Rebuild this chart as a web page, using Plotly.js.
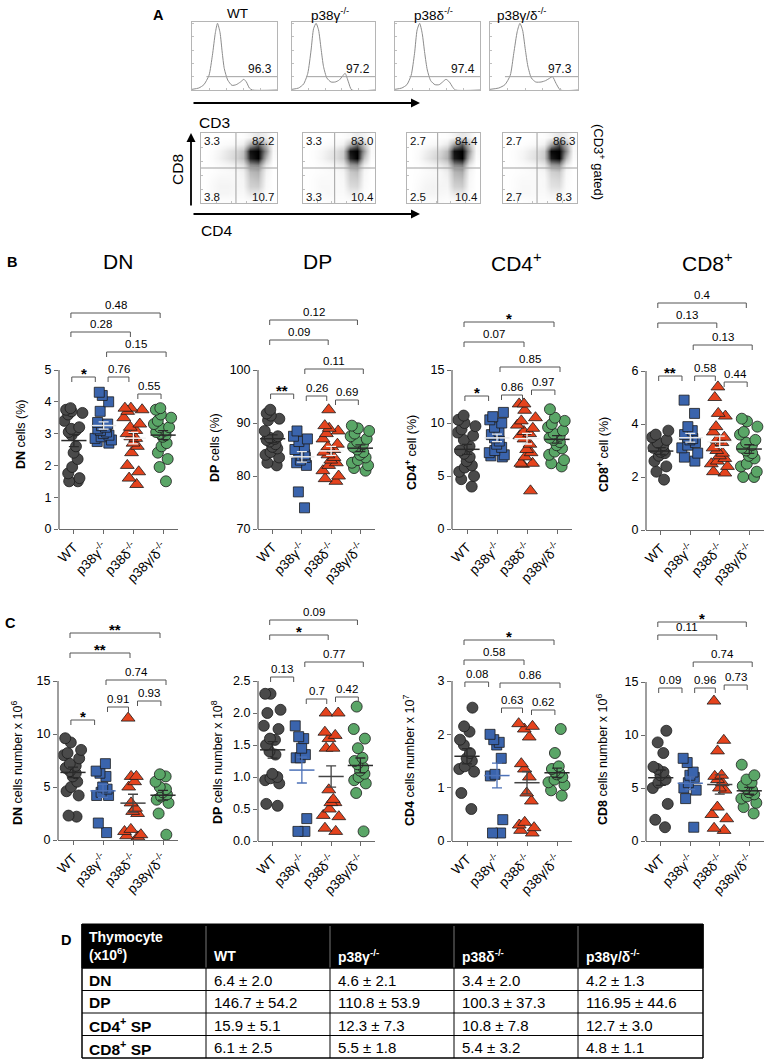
<!DOCTYPE html>
<html><head><meta charset="utf-8">
<script src="https://cdn.plot.ly/plotly-3.0.1.min.js"></script>
<style>html,body{margin:0;padding:0;background:#fff;}#chart{width:769px;height:1063px;}</style>
</head><body><div id="chart"></div>
<script>
// ---------------- DATA ----------------
const genotypes = ['WT', 'p38γ<sup>-/-</sup>', 'p38δ<sup>-/-</sup>', 'p38γ/δ<sup>-/-</sup>'];

// Panel A: CD3 histograms (x = % of CD3 axis, y = % of max count)
const histX_WT = [0, 8, 14, 20, 24, 27.5, 30, 33, 35.5, 38, 42, 47, 52, 57, 61, 64, 67.5, 71, 100];
const histY_WT = [1, 3, 8, 22, 52, 86, 100, 86, 57, 32, 15, 7, 8, 12, 16, 12, 3, 0, 0];
const histX_G = [0, 8, 14, 19, 23, 26, 29, 32, 35, 38, 42, 47, 52, 57, 61, 64, 68, 72, 100];
const histY_G = [1, 3, 9, 25, 60, 92, 100, 90, 62, 35, 18, 12, 12, 15, 21, 25, 12, 0, 0];
const histX_D = [0, 8, 14, 19, 23, 26, 29, 32, 35, 38, 42, 47, 52, 56, 60, 64, 68, 71, 100];
const histY_D = [1, 3, 8, 22, 55, 90, 100, 85, 55, 30, 14, 8, 8, 12, 16, 12, 4, 0, 0];
const histX_GD = [0, 10, 17, 23, 27, 31, 34, 37, 40, 43, 47, 52, 58, 63, 67, 71, 75, 80, 100];
const histY_GD = [1, 3, 8, 22, 55, 88, 100, 90, 62, 36, 18, 12, 12, 14, 17, 20, 10, 0, 0];
const cd3Pct = ['96.3', '97.2', '97.4', '97.3'];

// Panel A: CD4/CD8 quadrant percentages
const quadUL = ['3.3', '3.3', '2.7', '2.7'];
const quadUR = ['82.2', '83.0', '84.4', '86.3'];
const quadLL = ['3.8', '3.3', '2.5', '2.7'];
const quadLR = ['10.7', '10.4', '10.4', '8.3'];

// Panel A: dot-plot density (rows bottom -> top, CD4 low -> high)
const dens_WT = [
 [0,0.01,0.02,0.02,0.02,0.02,0.04,0.04,0.01,0],
 [0,0.04,0.07,0.07,0.05,0.05,0.16,0.15,0.03,0],
 [0,0.04,0.08,0.08,0.06,0.07,0.28,0.30,0.05,0],
 [0,0.03,0.06,0.06,0.05,0.08,0.32,0.36,0.06,0],
 [0,0.01,0.03,0.04,0.05,0.10,0.38,0.42,0.08,0],
 [0,0.01,0.04,0.07,0.10,0.18,0.55,0.60,0.15,0],
 [0,0.03,0.10,0.18,0.25,0.38,0.90,1.00,0.40,0.03],
 [0,0.02,0.08,0.16,0.22,0.35,0.95,1.00,0.55,0.05],
 [0,0,0.02,0.04,0.06,0.12,0.45,0.70,0.35,0.04],
 [0,0,0,0,0.01,0.02,0.08,0.15,0.10,0.01]];
const dens_G = [
 [0,0.01,0.01,0.02,0.02,0.02,0.03,0.03,0.01,0],
 [0,0.02,0.04,0.05,0.04,0.04,0.12,0.12,0.02,0],
 [0,0.02,0.05,0.05,0.04,0.05,0.22,0.24,0.04,0],
 [0,0.02,0.04,0.04,0.04,0.06,0.28,0.30,0.05,0],
 [0,0.01,0.02,0.03,0.04,0.08,0.32,0.36,0.06,0],
 [0,0.01,0.03,0.05,0.08,0.15,0.50,0.55,0.12,0],
 [0,0.02,0.07,0.14,0.20,0.32,0.88,1.00,0.35,0.02],
 [0,0.02,0.06,0.12,0.18,0.30,0.95,1.00,0.50,0.04],
 [0,0,0.01,0.03,0.05,0.10,0.40,0.65,0.30,0.03],
 [0,0,0,0,0.01,0.02,0.06,0.12,0.08,0.01]];
const dens_D = [
 [0,0.01,0.02,0.03,0.03,0.02,0.04,0.04,0.01,0],
 [0,0.04,0.08,0.08,0.06,0.05,0.15,0.15,0.03,0],
 [0,0.03,0.07,0.09,0.07,0.07,0.28,0.30,0.05,0],
 [0,0.02,0.05,0.07,0.06,0.09,0.34,0.36,0.06,0],
 [0,0.01,0.03,0.05,0.06,0.12,0.40,0.44,0.08,0],
 [0,0.01,0.05,0.09,0.13,0.22,0.58,0.62,0.15,0],
 [0,0.04,0.13,0.22,0.30,0.42,0.92,1.00,0.40,0.03],
 [0,0.03,0.10,0.18,0.25,0.38,0.95,1.00,0.52,0.05],
 [0,0,0.02,0.05,0.07,0.14,0.48,0.72,0.35,0.04],
 [0,0,0,0,0.01,0.02,0.08,0.15,0.10,0.01]];
const dens_GD = [
 [0,0.01,0.01,0.02,0.02,0.02,0.03,0.03,0.01,0],
 [0,0.03,0.05,0.05,0.04,0.04,0.10,0.10,0.02,0],
 [0,0.02,0.05,0.05,0.04,0.05,0.18,0.20,0.03,0],
 [0,0.02,0.04,0.04,0.04,0.05,0.22,0.25,0.04,0],
 [0,0.01,0.02,0.03,0.04,0.07,0.28,0.32,0.05,0],
 [0,0.01,0.03,0.05,0.08,0.15,0.50,0.55,0.12,0],
 [0,0.02,0.07,0.14,0.20,0.32,0.92,1.00,0.40,0.03],
 [0,0.02,0.06,0.12,0.18,0.30,0.98,1.00,0.58,0.05],
 [0,0,0.01,0.03,0.05,0.10,0.45,0.75,0.40,0.04],
 [0,0,0,0,0.01,0.02,0.08,0.15,0.10,0.01]];

// Panel B: % of thymocytes
const bDN_WT = [3.8,3.75,3.7,3.65,3.6,3.4,3.2,3.15,3.1,3.05,2.95,2.6,2.4,2.2,1.95,1.75,1.6,1.5,1.5];
const bDN_G  = [4.3,4.2,4.0,3.7,3.35,3.3,3.25,3.2,3.15,3.1,3.05,3.0,2.95,2.9,2.85,2.8,2.75,2.7];
const bDN_D  = [3.8,3.8,3.75,3.7,3.5,3.3,3.2,3.1,3.0,2.9,2.85,2.7,2.6,2.4,2.0,1.8,1.6,1.4];
const bDN_GD = [3.8,3.75,3.6,3.5,3.4,3.3,3.2,3.2,3.1,3.05,3.0,2.95,2.9,2.7,2.6,2.4,2.2,1.95,1.5];

const bDP_WT = [92.5,91.8,91.4,90.8,90.5,88.5,87.0,87.5,87.2,86.8,86.5,86.0,85.5,85.2,84.5,84.0,83.5,82.5,82.0];
const bDP_G  = [88.5,87.5,87.0,86.5,85.5,85.0,84.5,84.0,83.8,83.5,83.0,82.5,82.0,77.0,74.0];
const bDP_D  = [92.5,89.5,89.0,88.5,88.0,87.0,86.0,85.5,85.0,84.5,84.0,83.5,83.0,82.5,82.0,81.0,80.0,79.5,79.0];
const bDP_GD = [89.5,89.0,88.5,88.0,87.5,87.0,86.5,86.0,85.5,85.0,84.5,84.0,83.5,83.0,82.5,82.0,81.5,81.0];

const bCD4_WT = [10.7,10.3,10.0,9.7,9.4,9.1,8.8,8.4,7.8,7.4,7.1,6.8,6.4,6.0,5.8,5.4,5.0,4.7,4.0];
const bCD4_G  = [11.0,10.6,10.3,10.0,9.6,9.2,8.9,8.6,8.3,8.0,7.7,7.4,7.2,7.0,6.9,6.8];
const bCD4_D  = [11.8,11.8,11.2,10.5,10.2,9.8,9.5,9.2,9.0,8.8,8.5,8.0,7.5,7.2,6.8,6.2,6.2,6.1,3.6];
const bCD4_GD = [11.3,10.5,10.2,9.9,9.6,9.3,9.0,8.8,8.6,8.4,8.2,7.9,7.6,7.3,7.0,6.5,6.2,5.9];

const bCD8_WT = [3.75,3.6,3.5,3.4,3.3,3.2,3.1,3.05,3.0,2.95,2.9,2.8,2.6,2.4,2.2,1.9];
const bCD8_G  = [4.9,4.4,3.9,3.75,3.6,3.5,3.45,3.4,3.3,3.2,3.1,2.9,2.75,2.6];
const bCD8_D  = [5.4,5.0,4.4,4.3,3.9,3.7,3.5,3.4,3.3,3.1,3.0,2.9,2.8,2.7,2.6,2.5,2.4,2.2,2.15];
const bCD8_GD = [4.2,4.1,3.9,3.7,3.6,3.4,3.3,3.2,3.1,3.0,2.9,2.8,2.7,2.5,2.4,2.2,2.0,2.0];

// Panel C: absolute numbers
const cDN_WT = [9.6,9.2,8.5,8.2,8.0,7.7,7.2,7.0,6.8,6.5,6.3,6.0,5.5,5.0,4.6,4.2,2.3,2.2];
const cDN_G  = [7.2,6.5,6.3,6.0,5.0,4.8,4.5,4.2,4.2,1.6,0.7];
const cDN_D  = [11.5,6.0,6.0,5.5,5.0,3.5,3.0,2.7,2.5,1.0,0.8,0.5,0.4,0.3];
const cDN_GD = [6.2,6.0,5.5,5.0,4.8,4.5,4.3,4.1,3.8,3.5,2.5,0.5];

const cDP_WT = [2.3,2.3,2.05,2.0,1.8,1.75,1.6,1.58,1.5,1.4,1.35,1.05,1.0,0.98,0.95,0.9,0.58,0.55];
const cDP_G  = [1.8,1.63,1.6,1.45,1.35,1.3,1.3,0.35,0.15,0.15];
const cDP_D  = [2.0,2.0,1.7,1.65,1.6,1.45,1.45,0.8,0.65,0.6,0.6,0.5,0.4,0.38,0.2,0.15];
const cDP_GD = [2.1,1.75,1.6,1.45,1.3,1.25,1.2,1.15,1.1,1.05,1.0,0.95,0.9,0.75,0.15];

const cCD4_WT = [2.5,2.15,2.05,1.9,1.8,1.65,1.55,1.5,1.4,1.35,1.3,0.9,0.6];
const cCD4_G  = [2.0,1.9,1.85,1.8,1.55,1.25,1.22,0.4,0.15,0.15];
const cCD4_D  = [2.2,2.15,2.1,1.95,1.45,1.35,1.2,0.9,0.75,0.35,0.3,0.25,0.2,0.15];
const cCD4_GD = [2.1,1.65,1.4,1.35,1.3,1.28,1.25,1.2,1.15,1.1,1.05,0.95,0.85];

const cCD8_WT = [10.4,9.3,8.3,7.0,6.8,6.5,6.2,5.8,5.5,5.0,3.5,2.0,1.3];
const cCD8_G  = [7.8,7.4,6.5,6.2,6.0,5.5,5.0,4.8,4.0,1.3];
const cCD8_D  = [13.2,9.5,8.5,6.2,6.1,5.8,5.5,5.0,4.8,3.2,2.5,2.1,1.2,1.0];
const cCD8_GD = [7.2,6.2,5.8,5.5,5.2,5.0,4.8,4.6,4.4,4.2,4.0,3.6,3.2,2.6];

// p-value labels: [groupA, groupB, label]
const pv_bDN  = [[0,1,'*'],[1,2,'0.76'],[2,3,'0.55'],[1,3,'0.15'],[0,2,'0.28'],[0,3,'0.48']];
const pv_bDP  = [[0,1,'**'],[1,2,'0.26'],[2,3,'0.69'],[1,3,'0.11'],[0,2,'0.09'],[0,3,'0.12']];
const pv_bCD4 = [[0,1,'*'],[1,2,'0.86'],[2,3,'0.97'],[1,3,'0.85'],[0,2,'0.07'],[0,3,'*']];
const pv_bCD8 = [[0,1,'**'],[1,2,'0.58'],[2,3,'0.44'],[1,3,'0.13'],[0,2,'0.13'],[0,3,'0.4']];
const pv_cDN  = [[0,1,'*'],[1,2,'0.91'],[2,3,'0.93'],[1,3,'0.74'],[0,2,'**'],[0,3,'**']];
const pv_cDP  = [[0,1,'0.13'],[1,2,'0.7'],[2,3,'0.42'],[1,3,'0.77'],[0,2,'*'],[0,3,'0.09']];
const pv_cCD4 = [[0,1,'0.08'],[1,2,'0.63'],[2,3,'0.62'],[1,3,'0.86'],[0,2,'0.58'],[0,3,'*']];
const pv_cCD8 = [[0,1,'0.09'],[1,2,'0.96'],[2,3,'0.73'],[1,3,'0.74'],[0,2,'0.11'],[0,3,'*']];

// Panel D table
const tableHeader = ['<b>Thymocyte</b><br><b>(x10<sup>6</sup>)</b>', '<b>WT</b>', '<b>p38γ<sup>-/-</sup></b>', '<b>p38δ<sup>-/-</sup></b>', '<b>p38γ/δ<sup>-/-</sup></b>'];
const tableRows = ['<b>DN</b>', '<b>DP</b>', '<b>CD4<sup>+</sup> SP</b>', '<b>CD8<sup>+</sup> SP</b>'];
const tab_WT = ['6.4 ± 2.0', '146.7 ± 54.2', '15.9 ± 5.1', '6.1 ± 2.5'];
const tab_G  = ['4.6 ± 2.1', '110.8 ± 53.9', '12.3 ± 7.3', '5.5 ± 1.8'];
const tab_D  = ['3.4 ± 2.0', '100.3 ± 37.3', '10.8 ± 7.8', '5.4 ± 3.2'];
const tab_GD = ['4.2 ± 1.3', '116.95 ± 44.6', '12.7 ± 3.0', '4.8 ± 1.1'];

// ---------------- LAYOUT / STYLE ----------------
const W = 769, H = 1063;
const FONT = 'Liberation Sans, Arial, sans-serif';
const px = v => v / W, py = v => 1 - v / H;
const colors = ['#4a4a4a', '#3a64ad', '#e5431d', '#5aa667'];
const symbols = ['circle', 'square', 'triangle-up', 'circle'];
const msize = [11, 10, 12, 11];

const traces = [], shapes = [], annos = [];
const layout = {
  width: W, height: H, margin: {l: 0, r: 0, t: 0, b: 0},
  paper_bgcolor: '#fff', plot_bgcolor: 'rgba(0,0,0,0)',
  showlegend: false, boxmode: 'overlay', font: {family: FONT, color: '#000'},
  hovermode: false
};

function txt(x, y, text, size, opts) {
  annos.push(Object.assign({xref: 'paper', yref: 'paper', x: px(x), y: py(y), text: text,
    xanchor: 'center', yanchor: 'middle', showarrow: false,
    font: {size: size, family: FONT, color: '#000'}}, opts || {}));
}

// ----- Panel A -----
const histSets = [[histX_WT, histY_WT], [histX_G, histY_G], [histX_D, histY_D], [histX_GD, histY_GD]];
const densSets = [dens_WT, dens_G, dens_D, dens_GD];
const histBox = [[192, 277], [292, 375], [395, 480], [490, 578]];
const dotBox = [[201, 277], [303, 375], [407, 480], [503, 577]];
const titleX = [237, 330, 433, 521];
const quadV = [46, 44, 42, 46];
const gridC = [5, 15, 25, 35, 45, 55, 65, 75, 85, 95];
const smallAxis = (dom, anchor, rng) => ({domain: dom, anchor: anchor, range: rng, showline: true, mirror: true,
  linecolor: '#b5b5b5', linewidth: 1, ticks: 'inside', ticklen: 2, tickcolor: '#c0c0c0', dtick: 20,
  showticklabels: false, showgrid: false, zeroline: false, fixedrange: true});

for (let i = 0; i < 4; i++) {
  const hn = i + 1, dn = i + 5;
  layout['xaxis' + hn] = smallAxis([px(histBox[i][0]), px(histBox[i][1])], 'y' + hn, [0, 100]);
  layout['yaxis' + hn] = smallAxis([py(90), py(22)], 'x' + hn, [0, 102]);
  layout['xaxis' + dn] = smallAxis([px(dotBox[i][0]), px(dotBox[i][1])], 'y' + dn, [0, 100]);
  layout['yaxis' + dn] = smallAxis([py(203), py(133)], 'x' + dn, [0, 100]);
  traces.push({type: 'scatter', mode: 'lines', x: histSets[i][0], y: histSets[i][1],
    line: {color: '#8c8c8c', width: 1, shape: 'spline', smoothing: 0.6}, xaxis: 'x' + hn, yaxis: 'y' + hn, hoverinfo: 'skip'});
  traces.push({type: 'heatmap', x: gridC, y: gridC, z: densSets[i], zmin: 0, zmax: 1, zsmooth: 'best', showscale: false,
    colorscale: [[0, '#ffffff'], [0.08, '#f4f4f4'], [0.3, '#cdcdcd'], [0.6, '#858585'], [0.88, '#262626'], [1, '#000000']],
    xaxis: 'x' + dn, yaxis: 'y' + dn, hoverinfo: 'skip'});
  shapes.push({type: 'line', xref: 'x' + hn, yref: 'y' + hn, x0: 17, x1: 100, y0: 20, y1: 20, line: {color: '#a0a0a0', width: 1}});
  shapes.push({type: 'line', xref: 'x' + dn, yref: 'y' + dn, x0: quadV[i], x1: quadV[i], y0: 0, y1: 100, line: {color: '#a0a0a0', width: 1}});
  shapes.push({type: 'line', xref: 'x' + dn, yref: 'y' + dn, x0: 0, x1: 100, y0: 50, y1: 50, line: {color: '#a0a0a0', width: 1}});
  const f = {size: 11.5, family: FONT, color: '#111'};
  annos.push({xref: 'x' + hn, yref: 'y' + hn, x: 80, y: 32, text: cd3Pct[i], showarrow: false, font: {size: 12, family: FONT, color: '#111'}});
  annos.push({xref: 'x' + dn, yref: 'y' + dn, x: 15, y: 88, text: quadUL[i], showarrow: false, font: f});
  annos.push({xref: 'x' + dn, yref: 'y' + dn, x: 82, y: 88, text: quadUR[i], showarrow: false, font: f});
  annos.push({xref: 'x' + dn, yref: 'y' + dn, x: 15, y: 9, text: quadLL[i], showarrow: false, font: f});
  annos.push({xref: 'x' + dn, yref: 'y' + dn, x: 82, y: 9, text: quadLR[i], showarrow: false, font: f});
  txt(titleX[i], 14, genotypes[i], 13.5);
}
// arrows
const arrow = (hx, hy, ax, ay) => annos.push({xref: 'paper', yref: 'paper', x: px(hx), y: py(hy), ax: ax, ay: ay,
  axref: 'pixel', ayref: 'pixel', text: '', showarrow: true, arrowhead: 2, arrowsize: 1, arrowwidth: 1.8, arrowcolor: '#000'});
arrow(420, 103, -228, 0);
arrow(191, 133, 0, 74);
arrow(420, 214, -228, 0);
txt(214, 122, 'CD3', 15.5);
txt(178, 170, 'CD8', 15.5, {textangle: -90});
txt(216, 231, 'CD4', 15.5);
txt(599, 162, '(CD3<sup>+</sup> gated)', 13, {textangle: 90});

// panel letters
txt(158, 15, '<b>A</b>', 14.5);
txt(12, 262, '<b>B</b>', 14.5);
txt(10, 623, '<b>C</b>', 14.5);
txt(66, 940, '<b>D</b>', 14.5);
// B titles
txt(118, 262, 'DN', 21); txt(317, 262, 'DP', 21); txt(516, 262, 'CD4<sup>+</sup>', 21); txt(707, 262, 'CD8<sup>+</sup>', 21);

// ----- Panels B and C -----
const bracketOffsets = {'0-1': [-0.07, 0.72], '1-2': [1.15, 1.85], '2-3': [2.15, 2.93], '1-3': [1.1, 3.1], '0-2': [-0.1, 1.9], '0-3': [-0.1, 2.9]};
const panels = [
  {groups: [bDN_WT, bDN_G, bDN_D, bDN_GD], pv: pv_bDN, brPx: [377, 377, 394, 352, 332, 313], xl: 59, xr: 178, yb: 529, yt: 370, top: 290,
   ymin: 0, ymax: 5, tv: [0, 1, 2, 3, 4, 5], tt: null, ttl: '<b>DN</b> cells (%)', tx: 21, ty: 435},
  {groups: [bDP_WT, bDP_G, bDP_D, bDP_GD], pv: pv_bDP, brPx: [394, 396, 400, 369, 340, 320], xl: 258, xr: 375, yb: 529, yt: 370, top: 290,
   ymin: 70, ymax: 100, tv: [70, 80, 90, 100], tt: null, ttl: '<b>DP</b> cells (%)', tx: 215, ty: 448},
  {groups: [bCD4_WT, bCD4_G, bCD4_D, bCD4_GD], pv: pv_bCD4, brPx: [396, 395, 390, 367, 342, 322], xl: 452, xr: 572, yb: 529, yt: 370, top: 290,
   ymin: 0, ymax: 15, tv: [0, 5, 10, 15], tt: null, ttl: '<b>CD4<sup>+</sup></b> cell (%)', tx: 411, ty: 453},
  {groups: [bCD8_WT, bCD8_G, bCD8_D, bCD8_GD], pv: pv_bCD8, brPx: [376, 376, 382, 345, 323, 303], xl: 646, xr: 764, yb: 530, yt: 371, top: 290,
   ymin: 0, ymax: 6, tv: [0, 2, 4, 6], tt: null, ttl: '<b>CD8<sup>+</sup></b> cell (%)', tx: 603, ty: 455},
  {groups: [cDN_WT, cDN_G, cDN_D, cDN_GD], pv: pv_cDN, brPx: [720, 707, 701, 680, 653, 633], xl: 58, xr: 178, yb: 840, yt: 681, top: 605,
   ymin: 0, ymax: 15, tv: [0, 5, 10, 15], tt: null, ttl: '<b>DN</b> cells number x 10<sup>6</sup>', tx: 17, ty: 763},
  {groups: [cDP_WT, cDP_G, cDP_D, cDP_GD], pv: pv_cDP, brPx: [677, 699, 697, 662, 635, 620], xl: 258, xr: 375, yb: 841, yt: 681, top: 605,
   ymin: 0, ymax: 2.5, tv: [0, 0.5, 1, 1.5, 2, 2.5], tt: ['0.0', '0.5', '1.0', '1.5', '2.0', '2.5'], ttl: '<b>DP</b> cells number x 10<sup>8</sup>', tx: 217, ty: 762},
  {groups: [cCD4_WT, cCD4_G, cCD4_D, cCD4_GD], pv: pv_cCD4, brPx: [682, 708, 710, 683, 660, 640], xl: 452, xr: 572, yb: 841, yt: 681, top: 605,
   ymin: 0, ymax: 3, tv: [0, 1, 2, 3], tt: null, ttl: '<b>CD4</b> cells number x 10<sup>7</sup>', tx: 409, ty: 760},
  {groups: [cCD8_WT, cCD8_G, cCD8_D, cCD8_GD], pv: pv_cCD8, brPx: [688, 688, 685, 662, 635, 622], xl: 646, xr: 764, yb: 841, yt: 682, top: 605,
   ymin: 0, ymax: 15, tv: [0, 5, 10, 15], tt: null, ttl: '<b>CD8</b> cells number x 10<sup>6</sup>', tx: 602, ty: 760}
];
const meanColorsB = ['#2a2a2a', '#e8e8e8', '#f2f2f2', '#2a2a2a'];
const meanColorsC = ['#2a2a2a', '#4d72b8', '#444444', '#2a2a2a'];

panels.forEach((p, k) => {
  const n = k + 9, xa = 'x' + n, ya = 'y' + n;
  const rngTop = p.ymin + (p.yb - p.top) / (p.yb - p.yt) * (p.ymax - p.ymin);
  layout['xaxis' + n] = {domain: [px(p.xl), px(p.xr)], anchor: ya, range: [-0.5, 3.5], tickvals: [0, 1, 2, 3], ticktext: genotypes,
    tickangle: -45, showline: true, linecolor: '#6a6a6a', linewidth: 1.3, ticks: 'outside', ticklen: 4, tickcolor: '#6a6a6a',
    tickfont: {size: 13.5, family: FONT, color: '#000'}, showgrid: false, zeroline: false, fixedrange: true};
  layout['yaxis' + n] = {domain: [py(p.yb), py(p.top)], anchor: xa, range: [p.ymin, rngTop], tickvals: p.tv, ticktext: p.tt || p.tv.map(String),
    ticks: 'outside', ticklen: 4, tickcolor: '#6a6a6a', showline: false, showgrid: false, zeroline: false,
    tickfont: {size: 12.5, family: FONT, color: '#000'}, fixedrange: true};
  shapes.push({type: 'line', xref: xa + ' domain', yref: ya, x0: 0, x1: 0, y0: p.ymin, y1: p.ymax, line: {color: '#6a6a6a', width: 1.3}});
  p.groups.forEach((vals, g) => {
    traces.push({type: 'box', x: vals.map(() => g), y: vals, xaxis: xa, yaxis: ya, boxpoints: 'all', jitter: 0.85, pointpos: 0,
      width: 0.8, fillcolor: 'rgba(0,0,0,0)', line: {color: 'rgba(0,0,0,0)', width: 0}, hoverinfo: 'skip',
      marker: {symbol: symbols[g], size: msize[g], color: colors[g], opacity: 1, line: {color: '#1c1c1c', width: 0.8}}});
  });
  p.groups.forEach((vals, g) => {
    const m = vals.reduce((a, b) => a + b, 0) / vals.length;
    const sd = Math.sqrt(vals.reduce((a, b) => a + (b - m) * (b - m), 0) / (vals.length - 1));
    const sem = sd / Math.sqrt(vals.length);
    const c = (k < 4 ? meanColorsB : meanColorsC)[g];
    traces.push({type: 'scatter', mode: 'markers', x: [g], y: [m], xaxis: xa, yaxis: ya, hoverinfo: 'skip', cliponaxis: false,
      marker: {symbol: 'line-ew', size: 18, color: c, line: {color: c, width: 1.5}},
      error_y: {type: 'data', array: [sem], visible: true, width: 5, thickness: 1.3, color: c}});
  });
  p.pv.forEach((b, j) => {
    const off = bracketOffsets[b[0] + '-' + b[1]];
    const yy = py(p.brPx[j]), yd = py(p.brPx[j] + 5);
    const ln = {color: '#555', width: 1};
    shapes.push({type: 'line', xref: xa, yref: 'paper', x0: off[0], x1: off[1], y0: yy, y1: yy, line: ln});
    shapes.push({type: 'line', xref: xa, yref: 'paper', x0: off[0], x1: off[0], y0: yy, y1: yd, line: ln});
    shapes.push({type: 'line', xref: xa, yref: 'paper', x0: off[1], x1: off[1], y0: yy, y1: yd, line: ln});
    const star = b[2].indexOf('*') >= 0;
    annos.push({xref: xa, yref: 'paper', x: (off[0] + off[1]) / 2, y: yy, xanchor: 'center', yanchor: 'bottom', yshift: star ? -7 : 0,
      text: star ? '<b>' + b[2] + '</b>' : b[2], showarrow: false, font: {size: star ? 15 : 11.5, family: FONT, color: '#000'}});
  });
  txt(p.tx, p.ty, p.ttl, 12.5, {textangle: -90});
});

// ----- Panel D table (drawn with shapes + text) -----
const colEdges = [82, 206, 330, 454, 578, 703];
const rowEdges = [924, 968, 990.5, 1013, 1035.5, 1058];
shapes.push({type: 'rect', xref: 'paper', yref: 'paper', x0: px(colEdges[0]), x1: px(colEdges[5]), y0: py(rowEdges[0]), y1: py(rowEdges[1]),
  fillcolor: '#000', line: {color: '#000', width: 1}});
for (let c = 1; c < 5; c++) {
  shapes.push({type: 'line', xref: 'paper', yref: 'paper', x0: px(colEdges[c]), x1: px(colEdges[c]), y0: py(rowEdges[0] + 2), y1: py(rowEdges[1]), line: {color: '#777', width: 1}});
  shapes.push({type: 'line', xref: 'paper', yref: 'paper', x0: px(colEdges[c]), x1: px(colEdges[c]), y0: py(rowEdges[1]), y1: py(rowEdges[5]), line: {color: '#000', width: 1}});
}
for (let r = 1; r < 6; r++) {
  shapes.push({type: 'line', xref: 'paper', yref: 'paper', x0: px(colEdges[0]), x1: px(colEdges[5]), y0: py(rowEdges[r]), y1: py(rowEdges[r]), line: {color: '#000', width: r === 5 ? 1.5 : 1}});
}
shapes.push({type: 'line', xref: 'paper', yref: 'paper', x0: px(colEdges[0]), x1: px(colEdges[0]), y0: py(rowEdges[0]), y1: py(rowEdges[5]), line: {color: '#000', width: 1.5}});
shapes.push({type: 'line', xref: 'paper', yref: 'paper', x0: px(colEdges[5]), x1: px(colEdges[5]), y0: py(rowEdges[0]), y1: py(rowEdges[5]), line: {color: '#000', width: 1.5}});
txt(colEdges[0] + 5, rowEdges[0] + 3, tableHeader[0], 14, {xanchor: 'left', yanchor: 'top', align: 'left', font: {size: 14, family: FONT, color: '#fff'}});
for (let c = 1; c < 5; c++) {
  txt(colEdges[c] + 6, rowEdges[1] - 12, tableHeader[c], 14, {xanchor: 'left', font: {size: 14, family: FONT, color: '#fff'}});
}
const tabCols = [tableRows, tab_WT, tab_G, tab_D, tab_GD];
for (let c = 0; c < 5; c++) {
  for (let r = 0; r < 4; r++) {
    const yc = (rowEdges[r + 1] + rowEdges[r + 2]) / 2 + 1;
    txt(colEdges[c] + (c === 0 ? 5 : 6), yc, tabCols[c][r], c === 0 ? 15.5 : 15, {xanchor: 'left'});
  }
}

layout.shapes = shapes;
layout.annotations = annos;
Plotly.newPlot('chart', traces, layout, {staticPlot: true, displayModeBar: false});
</script></body></html>
